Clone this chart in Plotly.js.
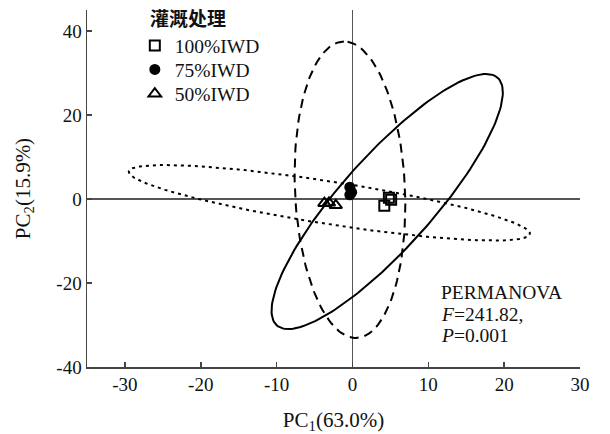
<!DOCTYPE html>
<html>
<head>
<meta charset="utf-8">
<script src="https://cdn.plot.ly/plotly-3.0.1.min.js"></script>
<style>html,body{margin:0;padding:0;background:#fff;}#chart{width:610px;height:434px;}</style>
</head>
<body>
<div id="chart"></div>
<script>
// Group names
const groups = ["100%IWD", "75%IWD", "50%IWD"];
// Sample scores (PC1, PC2)
const x100 = [4.2, 5.1, 4.8];
const y100 = [-1.6, -0.2, 0.3];
const x75 = [-0.35, -0.1, -0.35];
const y75 = [2.8, 1.6, 1.0];
const x50 = [-3.7, -3.1, -2.2];
const y50 = [-1.0, -0.9, -1.5];
// Confidence ellipses: centre, semi-axes, rotation (degrees)
const ellCx = [-0.33, 4.58, -3.04];
const ellCy = [2.2, -0.6, -0.9];
const ellA = [35.3, 33.2, 27.5];
const ellB = [7.26, 7.2, 4.95];
const ellAng = [91.3, 65.5, -16.1];
const ellDash = ["9px,6px", "solid", "3px,4px"];
// Axis ticks
const xTicks = [-30, -20, -10, 0, 10, 20, 30];
const yTicks = [-40, -20, 0, 20, 40];
// Text
const legendTitle = "灌溉处理";
const statLines = ["PERMANOVA", "<i>F</i>=241.82,", "<i>P</i>=0.001"];

const serif = "'Liberation Serif', 'Times New Roman', serif";

function ellipse(i) {
  const xs = [], ys = [];
  const th = ellAng[i] * Math.PI / 180;
  const n = 180;
  for (let k = 0; k <= n; k++) {
    const t = 2 * Math.PI * k / n;
    const u = ellA[i] * Math.cos(t), v = ellB[i] * Math.sin(t);
    xs.push(ellCx[i] + u * Math.cos(th) - v * Math.sin(th));
    ys.push(ellCy[i] + u * Math.sin(th) + v * Math.cos(th));
  }
  return {x: xs, y: ys};
}

const traces = [];
for (let i = 0; i < 3; i++) {
  const e = ellipse(i);
  traces.push({
    x: e.x, y: e.y, mode: 'lines', type: 'scatter', showlegend: false,
    hoverinfo: 'skip',
    line: {color: '#000', width: 2, dash: ellDash[i]}
  });
}
traces.push({
  x: x100, y: y100, name: groups[0], mode: 'markers', type: 'scatter', legend: 'legend',
  marker: {symbol: 'square-open', size: 10, color: '#000', line: {width: 2, color: '#000'}}
});
traces.push({
  x: x75, y: y75, name: groups[1], mode: 'markers', type: 'scatter', legend: 'legend2',
  marker: {symbol: 'circle', size: 11, color: '#000'}
});
traces.push({
  x: x50, y: y50, name: groups[2], mode: 'markers', type: 'scatter', legend: 'legend3',
  marker: {symbol: 'triangle-up-open', size: 11, color: '#000', line: {width: 2, color: '#000'}}
});

const axisCommon = {
  showgrid: false, showline: true, linecolor: '#444', linewidth: 1.5,
  ticks: 'inside', ticklen: 5, tickwidth: 1.5, tickcolor: '#444',
  zeroline: true, zerolinecolor: '#555', zerolinewidth: 1.5,
  tickfont: {family: serif, size: 19, color: '#111'}
};

function legendAt(py) {
  return {
    x: 0.097, y: 1 - (py - 10) / 357, xanchor: 'left', yanchor: 'middle',
    bgcolor: 'rgba(0,0,0,0)',
    font: {family: serif, size: 19.5, color: '#111'},
    itemwidth: 30
  };
}

const statY = [-22.2, -27.4, -32.6];
const annotations = [
  {
    text: '<b>' + legendTitle + '</b>', xref: 'x', yref: 'y', x: -27.0, y: 43.1,
    xanchor: 'left', yanchor: 'middle', showarrow: false,
    font: {family: "'Noto Sans CJK SC', sans-serif", size: 19, color: '#111'}
  }
];
statLines.forEach((t, i) => annotations.push({
  text: t, xref: 'x', yref: 'y', x: 11.4, y: statY[i], xanchor: 'left', yanchor: 'middle',
  showarrow: false, font: {family: serif, size: 19.5, color: '#111'}
}));

const layout = {
  width: 610, height: 434,
  margin: {l: 87, r: 30, t: 10, b: 67},
  paper_bgcolor: '#fff', plot_bgcolor: '#fff',
  xaxis: Object.assign({}, axisCommon, {
    range: [-35, 30], tickvals: xTicks, ticktext: xTicks.map(String),
    title: {text: 'PC<sub>1</sub>(63.0%)', font: {family: serif, size: 21, color: '#111'}, standoff: 19}
  }),
  yaxis: Object.assign({}, axisCommon, {
    range: [-40, 45], tickvals: yTicks, ticktext: yTicks.map(String),
    title: {text: 'PC<sub>2</sub>(15.9%)', font: {family: serif, size: 21, color: '#111'}, standoff: 20}
  }),
  showlegend: true,
  legend: legendAt(45.7),
  legend2: legendAt(69.7),
  legend3: legendAt(94),
  annotations: annotations
};

Plotly.newPlot('chart', traces, layout, {displayModeBar: false, staticPlot: true});
</script>
</body>
</html>
